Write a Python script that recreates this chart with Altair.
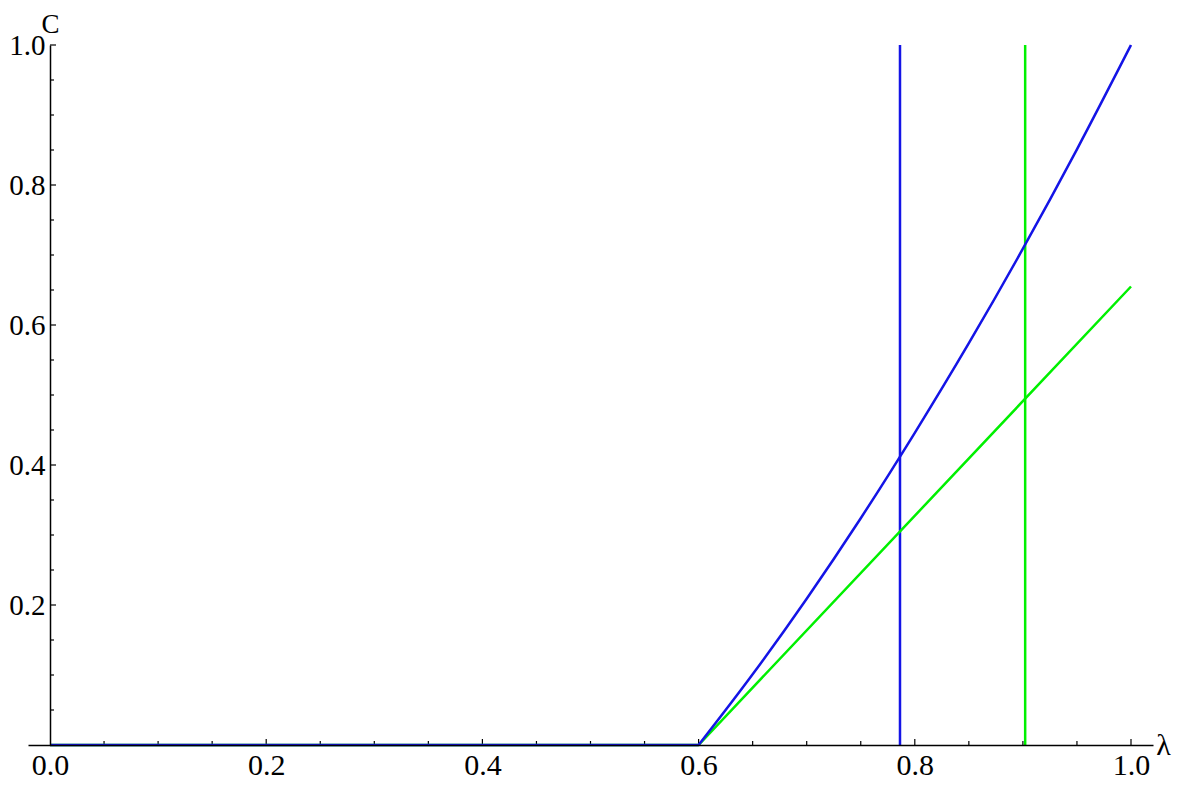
import altair as alt
import pandas as pd

# ---- data ----
blue_lambda = [0.6, 0.65, 0.7, 0.75, 0.8, 0.85, 0.9, 0.95, 1.0]
blue_c = [0.0, 0.101, 0.209, 0.324, 0.446, 0.574, 0.709, 0.851, 1.0]
flat_lambda = [0.0, 0.6]
flat_c = [0.0, 0.0]
green_lambda = [0.0, 0.6, 1.0]
green_c = [0.0, 0.0, 0.655]
vline_lambda = [0.7863, 0.9021]
vline_series = ["blue", "green"]

x_label_values = [0.0, 0.2, 0.4, 0.6, 0.8, 1.0]
y_label_values = [0.2, 0.4, 0.6, 0.8, 1.0]
x_major_ticks = [0.2, 0.4, 0.6, 0.8, 1.0]
y_major_ticks = [0.2, 0.4, 0.6, 0.8, 1.0]
minor_ticks = [0.05, 0.1, 0.15, 0.25, 0.3, 0.35, 0.45, 0.5, 0.55,
               0.65, 0.7, 0.75, 0.85, 0.9, 0.95]

# ---- layout / style ----
PX_X = 1081.0          # pixels per unit of lambda
EXT = 22.0             # axis extension beyond 0 and 1 (px)
XDOM = [-EXT / PX_X, 1 + EXT / PX_X]
W = round(PX_X * (XDOM[1] - XDOM[0]))
H = 700
YDOM = [0.0, 1.0]
px_per_x = W / (XDOM[1] - XDOM[0])
px_per_y = H / (YDOM[1] - YDOM[0])
SERIF = "Liberation Serif"
BLUE = "#1414e6"
GREEN = "#00f000"

xscale = alt.Scale(domain=XDOM, nice=False, zero=False)
yscale = alt.Scale(domain=YDOM, nice=False, zero=False)
cscale = alt.Scale(domain=["blue", "green"], range=[BLUE, GREEN])

xaxis = alt.Axis(
    values=x_label_values, format=".1f", ticks=False, tickSize=0,
    labelPadding=5, labelFont=SERIF, labelFontSize=30, labelColor="black",
    labelFlush=False, labelOverlap=False,
    domainColor="black", domainWidth=1.5, grid=False,
    title="λ", titleX=W + 10, titleY=9, titleFont=SERIF, titleFontSize=30,
    titleFontWeight="normal", titleColor="black", titleBaseline="alphabetic",
    titleAlign="center", zindex=1,
)
yaxis = alt.Axis(
    values=y_label_values, format=".1f", ticks=False, tickSize=0,
    labelPadding=5, labelFont=SERIF, labelFontSize=29, labelColor="black",
    labelFlush=False, labelOverlap=False,
    domainColor="black", domainWidth=1.5, grid=False, offset=-EXT,
    title="C", titleX=0, titleY=-13, titleAngle=0, titleFont=SERIF,
    titleFontSize=27, titleFontWeight="normal", titleColor="black",
    titleBaseline="alphabetic", titleAlign="center", zindex=1,
)

def X(field):
    return alt.X(field, type="quantitative", scale=xscale, axis=xaxis)

def Y(field):
    return alt.Y(field, type="quantitative", scale=yscale, axis=yaxis)

# ---- frames ----
blue_df = pd.DataFrame({"lam": blue_lambda, "c": blue_c, "s": "blue"})
flat_df = pd.DataFrame({"lam": flat_lambda, "c": flat_c, "s": "blue"})
green_df = pd.DataFrame({"lam": green_lambda, "c": green_c, "s": "green"})
vl_df = pd.DataFrame({"lam": vline_lambda, "s": vline_series,
                      "c0": [YDOM[0]] * len(vline_lambda),
                      "c1": [YDOM[1]] * len(vline_lambda)})

def xt(vals, length_px):
    return pd.DataFrame({"v": vals, "a": [0.0] * len(vals),
                         "b": [length_px / px_per_y] * len(vals)})

def yt(vals, length_px):
    return pd.DataFrame({"v": vals, "a": [0.0] * len(vals),
                         "b": [length_px / px_per_x] * len(vals)})

color_enc = alt.Color("s:N", scale=cscale, legend=None)

green_line = alt.Chart(green_df).mark_line(strokeWidth=2.5).encode(
    x=X("lam"), y=Y("c"), color=color_enc)
flat_line = alt.Chart(flat_df).mark_line(strokeWidth=2.5).encode(
    x=X("lam"), y=Y("c"), color=color_enc)
blue_line = alt.Chart(blue_df).mark_line(strokeWidth=2.5, interpolate="monotone").encode(
    x=X("lam"), y=Y("c"), color=color_enc)
vlines = alt.Chart(vl_df).mark_rule(strokeWidth=2.5).encode(
    x=X("lam"), y=Y("c0"), y2="c1:Q", color=color_enc)

tick_style = dict(color="black", strokeWidth=1.2)
x_major = alt.Chart(xt(x_major_ticks, 6)).mark_rule(**tick_style).encode(
    x=X("v"), y=Y("a"), y2="b:Q")
x_minor = alt.Chart(xt(minor_ticks, 4)).mark_rule(**tick_style).encode(
    x=X("v"), y=Y("a"), y2="b:Q")
y_major = alt.Chart(yt(y_major_ticks, 6)).mark_rule(**tick_style).encode(
    y=Y("v"), x=X("a"), x2="b:Q")
y_minor = alt.Chart(yt(minor_ticks, 4)).mark_rule(**tick_style).encode(
    y=Y("v"), x=X("a"), x2="b:Q")

chart = alt.layer(
    x_major, x_minor, y_major, y_minor, vlines, green_line, flat_line, blue_line
).properties(
    width=W, height=H,
    background="white",
    autosize=alt.AutoSizeParams(type="none"),
    padding={"left": 20, "top": 37, "right": 20, "bottom": 36},
).configure_view(stroke="transparent", strokeWidth=0)

chart.save("out.html", embed_options={"renderer": "svg", "actions": False})
